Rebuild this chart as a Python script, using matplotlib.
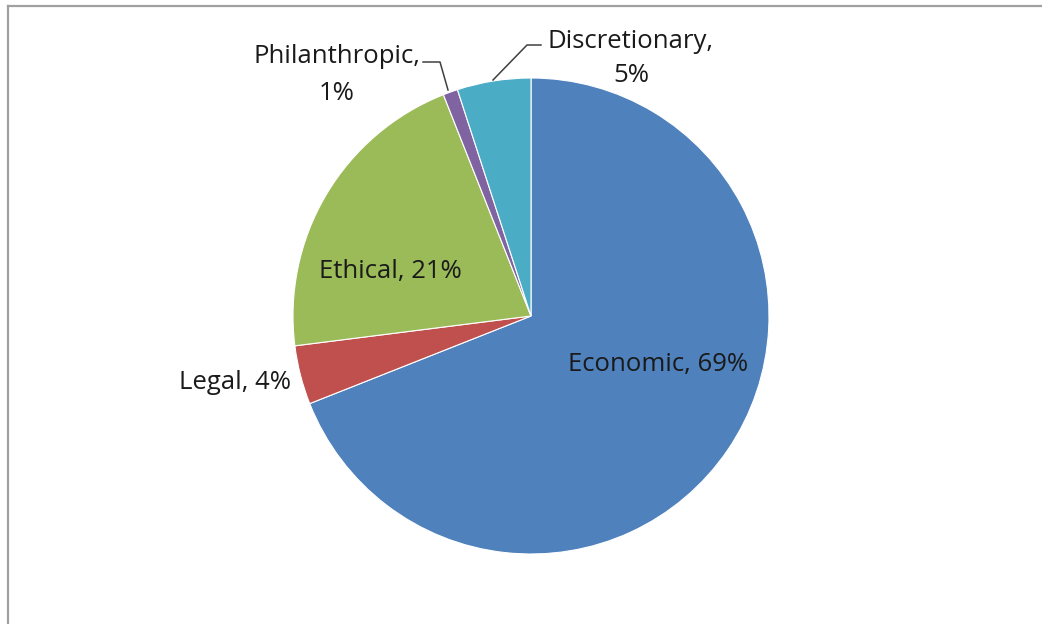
import matplotlib
matplotlib.use("Agg")
import matplotlib.pyplot as plt
from matplotlib.lines import Line2D

# data
names = ["Economic", "Legal", "Ethical", "Philanthropic", "Discretionary"]
shares = [69, 4, 21, 1, 5]
colors = ["#4F81BD", "#C0504D", "#9BBB59", "#8064A2", "#4BACC6"]

plt.rcParams["font.family"] = ["Open Sans", "DejaVu Sans"]

W, H = 1042, 624
fig = plt.figure(figsize=(W / 100, H / 100), dpi=100)
ax = fig.add_axes([0, 0, 1, 1])

# pie in pixel-like coordinates (y up)
cx, cy, r = 531, H - 316, 238
ax.pie(shares, colors=colors, startangle=90, counterclock=False,
       radius=r, center=(cx, cy), frame=False,
       wedgeprops=dict(edgecolor="white", linewidth=0.8))
ax.set_xlim(0, W)
ax.set_ylim(0, H)
ax.set_aspect("equal")
ax.axis("off")

fs = 18.5
txt = "#1a1a1a"


def label(x, y, s):
    ax.text(x, H - y, s, ha="center", va="baseline", fontsize=fs, color=txt)


label(658, 371, f"{names[0]}, {shares[0]}%")
label(235, 389, f"{names[1]}, {shares[1]}%")
label(390, 278, f"{names[2]}, {shares[2]}%")
label(337, 63, f"{names[3]},")
label(337, 100, f"{shares[3]}%")
label(631, 48, f"{names[4]},")
label(631, 82, f"{shares[4]}%")

# leader lines
ax.plot([423, 440, 448], [H - 62, H - 62, H - 90], color="#404040", lw=1.1)
ax.plot([493, 527, 541], [H - 80, H - 45, H - 45], color="#404040", lw=1.1)

# chart area border (left and top edges visible)
fig.add_artist(Line2D([8 / W, 8 / W], [0, 1 - 6 / H], transform=fig.transFigure,
                      color="#a0a0a0", lw=1.6))
fig.add_artist(Line2D([8 / W, 1], [1 - 6 / H, 1 - 6 / H], transform=fig.transFigure,
                      color="#a0a0a0", lw=1.6))

fig.savefig("out.png", dpi=100, facecolor="white")
